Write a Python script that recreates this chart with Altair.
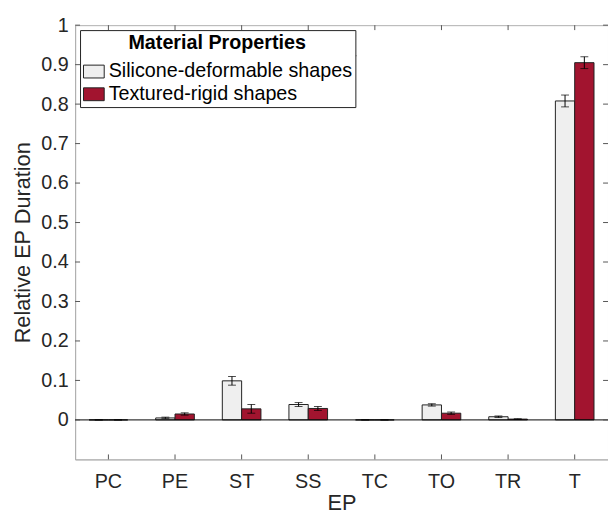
import altair as alt
import pandas as pd

categories = ["PC", "PE", "ST", "SS", "TC", "TO", "TR", "T"]
materials = ["Silicone-deformable shapes", "Textured-rigid shapes"]
silicone_vals = [0.0, 0.005, 0.099, 0.039, 0.0, 0.038, 0.008, 0.808]
silicone_err = [0.0, 0.002, 0.011, 0.005, 0.0, 0.003, 0.002, 0.015]
textured_vals = [0.0, 0.015, 0.028, 0.029, 0.0, 0.017, 0.002, 0.905]
textured_err = [0.0, 0.003, 0.011, 0.005, 0.0, 0.003, 0.001, 0.015]
y_ticks = [0, 0.1, 0.2, 0.3, 0.4, 0.5, 0.6, 0.7, 0.8, 0.9, 1]
colors = ["#EFEFEF", "#A2142F"]

rows = []
for i, c in enumerate(categories):
    rows.append({"EP": c, "mat": materials[0], "v": silicone_vals[i],
                 "lo": silicone_vals[i] - silicone_err[i], "hi": silicone_vals[i] + silicone_err[i]})
    rows.append({"EP": c, "mat": materials[1], "v": textured_vals[i],
                 "lo": textured_vals[i] - textured_err[i], "hi": textured_vals[i] + textured_err[i]})
df = pd.DataFrame(rows)
ticks_df = pd.DataFrame({"t": y_ticks})
cat_df = pd.DataFrame({"EP": categories})

W, H = 540, 440
FONT = "Liberation Sans"
AX = "#b0b0b0"
TXT = "#262626"

xscale = alt.Scale(domain=categories, paddingInner=0.42, paddingOuter=0.21)
yscale = alt.Scale(domain=[-0.1, 1], nice=False, zero=False)
xoff = alt.XOffset("mat:N", sort=materials, scale=alt.Scale(domain=materials, paddingInner=0, paddingOuter=0))

x_enc = alt.X("EP:N", sort=categories, scale=xscale,
              axis=alt.Axis(title="EP", labelAngle=0, ticks=False, domainColor=AX,
                            labelFontSize=20, titleFontSize=22, labelPadding=13,
                            titlePadding=1, labelColor=TXT, titleColor=TXT,
                            titleFontWeight="normal", labelFont=FONT, titleFont=FONT))
y_enc = alt.Y("v:Q", scale=yscale,
              axis=alt.Axis(title="Relative EP Duration", values=y_ticks, format="~g",
                            ticks=False, grid=False, domainColor=AX, labelFontSize=20,
                            titleFontSize=22, labelPadding=7, titlePadding=6,
                            labelColor=TXT, titleColor=TXT,
                            titleFontWeight="normal", labelFont=FONT, titleFont=FONT))

bars = alt.Chart(df).mark_bar(stroke="#222222", strokeWidth=1).encode(
    x=x_enc,
    xOffset=xoff,
    y=y_enc,
    y2=alt.datum(0),
    color=alt.Color("mat:N", sort=materials,
                    scale=alt.Scale(domain=materials, range=colors),
                    legend=alt.Legend(
                        title="Material Properties", orient="none", legendX=5, legendY=5,
                        strokeColor="#222222", fillColor="white", padding=3,
                        titleFontSize=20, titleFontWeight="bold", titleAnchor="middle",
                        titleFont=FONT, titleColor="black", titlePadding=8, titleLimit=400,
                        labelFontSize=20, labelFont=FONT, labelColor="black",
                        labelOffset=4, rowPadding=2, labelLimit=400,
                        symbolType="M-1,-0.62H1V0.62H-1Z", symbolSize=441,
                        symbolStrokeColor="#222222", symbolStrokeWidth=1,
                        symbolOpacity=1)),
)

zero = alt.Chart(pd.DataFrame({"z": [0]})).mark_rule(color="black", strokeWidth=1).encode(
    y=alt.Y("z:Q", scale=yscale), x=alt.value(0), x2=alt.value(W))

err_rule = alt.Chart(df).mark_rule(color="black", strokeWidth=1).encode(
    x=alt.X("EP:N", sort=categories, scale=xscale), xOffset=xoff,
    y=alt.Y("lo:Q", scale=yscale), y2="hi:Q")
cap_lo = alt.Chart(df).mark_tick(color="black", size=8, thickness=1).encode(
    x=alt.X("EP:N", sort=categories, scale=xscale), xOffset=xoff,
    y=alt.Y("lo:Q", scale=yscale))
cap_hi = alt.Chart(df).mark_tick(color="black", size=8, thickness=1).encode(
    x=alt.X("EP:N", sort=categories, scale=xscale), xOffset=xoff,
    y=alt.Y("hi:Q", scale=yscale))

ytick_l = alt.Chart(ticks_df).mark_rule(color="#555555", strokeWidth=1).encode(
    y=alt.Y("t:Q", scale=yscale), x=alt.value(0), x2=alt.value(5))
ytick_r = alt.Chart(ticks_df).mark_rule(color="#555555", strokeWidth=1).encode(
    y=alt.Y("t:Q", scale=yscale), x=alt.value(W - 5), x2=alt.value(W))
xtick_b = alt.Chart(cat_df).mark_rule(color="#555555", strokeWidth=1).encode(
    x=alt.X("EP:N", sort=categories, scale=xscale), y=alt.value(H - 5), y2=alt.value(H))
xtick_t = alt.Chart(cat_df).mark_rule(color="#555555", strokeWidth=1).encode(
    x=alt.X("EP:N", sort=categories, scale=xscale), y=alt.value(0), y2=alt.value(5))

sep = alt.Chart(pd.DataFrame({"a": [0]})).mark_rule(color="#222222", strokeWidth=1).encode(
    x=alt.value(5), x2=alt.value(285), y=alt.value(31))

chart = alt.layer(bars, zero, err_rule, cap_lo, cap_hi, ytick_l, ytick_r, xtick_b, xtick_t, sep).properties(
    width=W, height=H,
    autosize=alt.AutoSizeParams(type="none"),
    padding={"left": 68, "top": 14, "right": 0, "bottom": 56},
    background="white",
).configure_view(stroke=AX, strokeWidth=1)

chart.save("out.html", embed_options={"renderer": "svg", "actions": False})
